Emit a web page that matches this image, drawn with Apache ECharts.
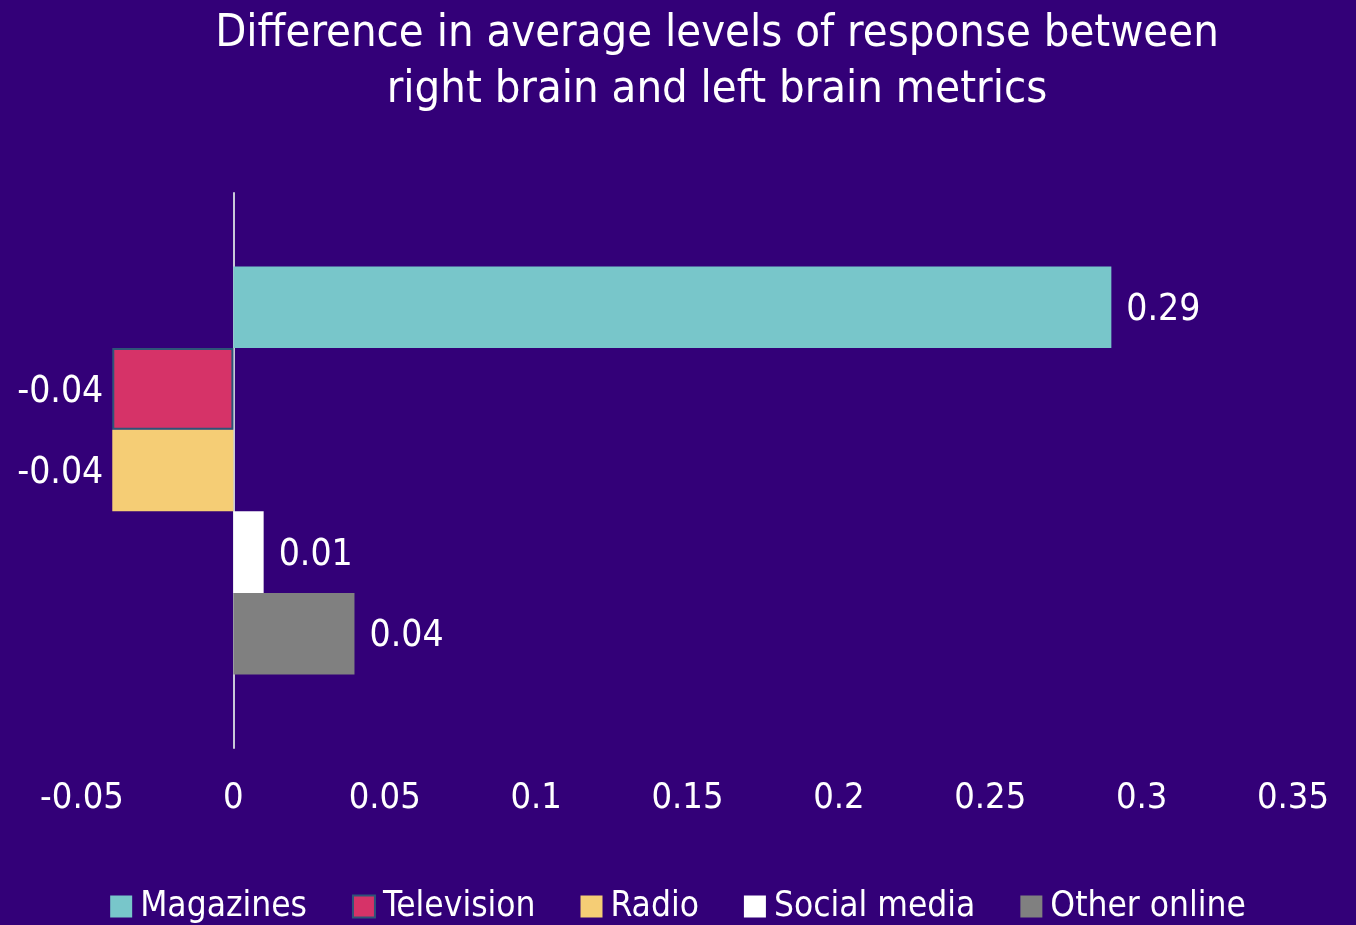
<!DOCTYPE html>
<html><head><meta charset="utf-8">
<script src="https://cdn.jsdelivr.net/npm/echarts@6/dist/echarts.min.js"></script>
<style>html,body{margin:0;padding:0;background:#330078;}#c{width:1356px;height:925px;}</style>
</head><body><div id="c"></div>
<script>
const categories = ['Response difference'];
const seriesNames = ['Magazines', 'Television', 'Radio', 'Social media', 'Other online'];
const magazines = [0.29];
const television = [-0.04];
const radio = [-0.04];
const socialMedia = [0.01];
const otherOnline = [0.04];
const xTicks = [-0.05, 0, 0.05, 0.1, 0.15, 0.2, 0.25, 0.3, 0.35];

const colors = ['#78C6CA', '#D63368', '#F5CD75', '#FFFFFF', '#808080'];
const borders = ['#78C6CA', '#2E5478', '#F5CD75', '#FFFFFF', '#808080'];
const values = [magazines, television, radio, socialMedia, otherOnline];
const FONT = '"DejaVu Sans Condensed", "Liberation Sans Narrow", sans-serif';

const chart = echarts.init(document.getElementById('c'));
chart.setOption({
  backgroundColor: '#330078',
  title: {
    text: 'Difference in average levels of response between\nright brain and left brain metrics',
    left: 712, top: 1, textAlign: 'center',
    textStyle: { color: '#fff', fontFamily: FONT, fontWeight: 'normal', fontSize: 45, lineHeight: 56 }
  },
  legend: {
    bottom: -4, left: 'center', itemWidth: 22, itemHeight: 22, itemGap: 45,
    icon: 'rect',
    textStyle: { color: '#fff', fontFamily: FONT, fontSize: 35, padding: [0, 0, 0, 3] },
    data: seriesNames
  },
  grid: { left: 82, right: 63, top: 193, bottom: 177, containLabel: false },
  xAxis: {
    type: 'value', min: xTicks[0], max: xTicks[xTicks.length - 1], interval: 0.05,
    axisLine: { show: false }, axisTick: { show: false }, splitLine: { show: false },
    axisLabel: { color: '#fff', fontFamily: FONT, fontSize: 36, margin: 33,
      formatter: v => String(parseFloat(v.toFixed(2))) }
  },
  yAxis: {
    type: 'category', data: categories, inverse: true,
    axisLine: { show: true, onZero: true, lineStyle: { color: '#C8C8D8', width: 2 } },
    axisTick: { show: false }, axisLabel: { show: false }
  },
  series: seriesNames.map((name, i) => ({
    name, type: 'bar', data: values[i], barGap: '0%', barCategoryGap: '26.5%',
    itemStyle: { color: colors[i], borderColor: borders[i], borderWidth: i === 1 ? 2 : 0 },
    label: {
      show: true, position: values[i][0] < 0 ? 'left' : 'right', distance: values[i][0] < 0 ? 9 : 15,
      offset: [0, 3],
      color: '#fff', fontFamily: FONT, fontSize: 37,
      formatter: p => String(p.value)
    }
  }))
});
</script></body></html>
